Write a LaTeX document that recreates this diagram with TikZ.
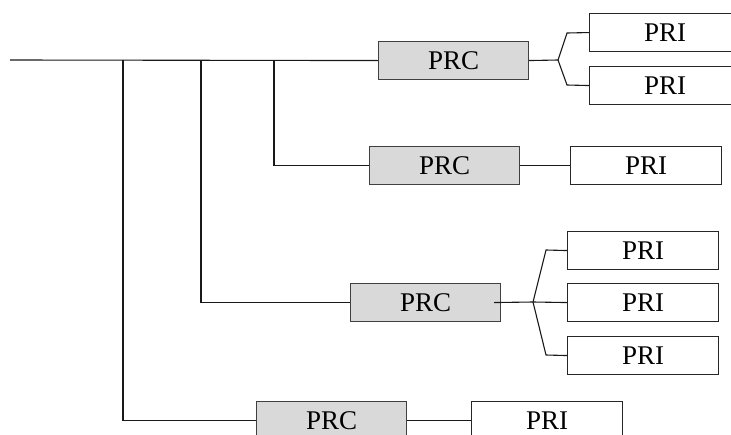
\documentclass[tikz,border=0pt]{standalone}
\usepackage{fontspec}
\setmainfont{Liberation Serif}
\begin{document}
\begin{tikzpicture}[x=1pt,y=-1pt,
  lbl/.style={font=\fontsize{27}{30}\selectfont},
  prc/.style={draw=black!75,fill=black!15,line width=1.1pt,minimum width=150pt,minimum height=38pt,inner sep=0pt,lbl,anchor=north west},
  pri/.style={draw=black!85,fill=white,line width=1.1pt,minimum width=151pt,minimum height=38pt,inner sep=0pt,lbl,anchor=north west},
  ln/.style={draw=black!90,line width=1.1pt}]
\useasboundingbox (0,0) rectangle (731,434);
\clip (0,0) rectangle (731,434);
% boxes
\node[prc] (c1) at (378,41) {PRC};
\node[pri] (i1) at (589,13) {PRI};
\node[pri] (i2) at (589,66) {PRI};
\node[prc] (c2) at (369,146) {PRC};
\node[pri] (i3) at (570,146) {PRI};
\node[prc] (c3) at (350,283) {PRC};
\node[pri] (i4) at (567,231) {PRI};
\node[pri] (i5) at (567,283) {PRI};
\node[pri] (i6) at (567,336) {PRI};
\node[prc] (c4) at (256,401) {PRC};
\node[pri] (i7) at (471,401) {PRI};
% coordinates
\coordinate (s) at (10,60);
\coordinate (b1) at (123,60);
\coordinate (b2) at (201,60);
\coordinate (b3) at (274,60);
\coordinate (v1) at (558,60);
\coordinate (v3) at (533,302);
% trunk
\draw[ln] (s) -- (c1.west);
\draw[ln] (b3) |- (c2.west);
\draw[ln] (b2) |- (c3.west);
\draw[ln] (b1) |- (c4.west);
% first bracket
\draw[ln] (c1.east) -- (v1);
\draw[ln] (v1) -- (567,33) -- (i1.west);
\draw[ln] (v1) -- (567,85) -- (i2.west);
% second
\draw[ln] (c2.east) -- (i3.west);
% third bracket
\draw[ln] ([xshift=-7pt]c3.east) -- (v3);
\draw[ln] (v3) -- (546,250) -- (i4.west);
\draw[ln] (v3) -- (i5.west);
\draw[ln] (v3) -- (546,355) -- (i6.west);
% fourth
\draw[ln] (c4.east) -- (i7.west);
\end{tikzpicture}
\end{document}
